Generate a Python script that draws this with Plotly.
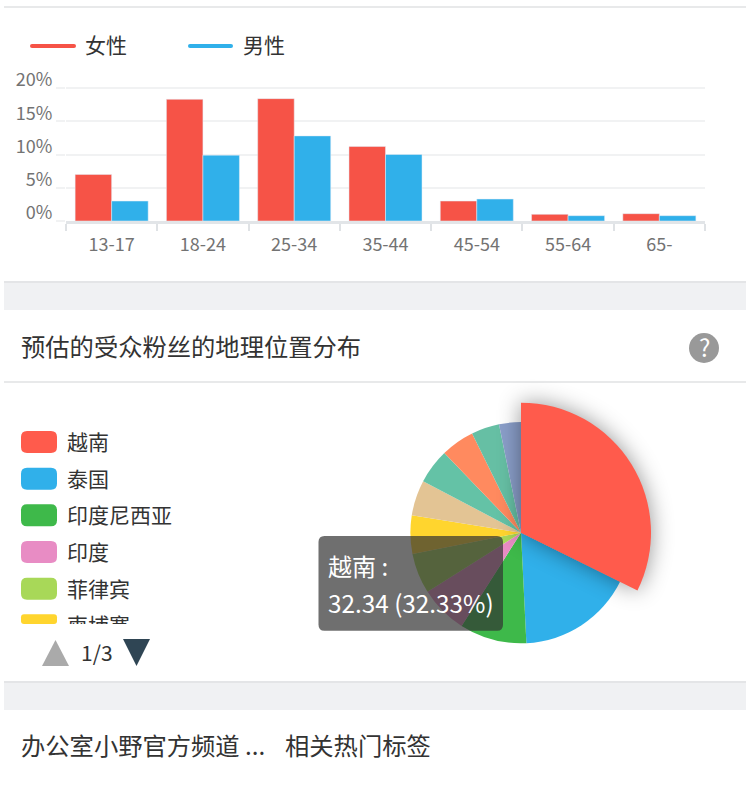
import plotly.graph_objects as go

W, H = 750, 785
CJK = "Noto Sans CJK SC"

# age / gender bars
age_groups = ["13-17", "18-24", "25-34", "35-44", "45-54", "55-64", "65-"]
female = [7.0, 18.3, 18.4, 11.2, 3.0, 1.0, 1.1]
male = [3.0, 9.9, 12.8, 10.0, 3.3, 0.8, 0.8]
y_ticks = [0, 5, 10, 15, 20]
y_tick_labels = ["0%", "5%", "10%", "15%", "20%"]

# geography pie, clockwise from 12 o'clock
countries = ["越南", "泰国", "印度尼西亚", "印度", "菲律宾", "柬埔寨", "其他1", "其他2", "其他3", "其他4", "其他5"]
shares = [32.34, 16.9, 9.8, 7.0, 5.9, 5.6, 5.2, 5.1, 4.9, 4.1, 3.19]
pie_colors = ["#ff5b4c", "#30b0ea", "#3eb94a", "#e88cc4", "#a8d858", "#ffd52e",
              "#e3c494", "#64c2a6", "#ff8a5f", "#66bfa4", "#8a9ec9"]
legend_names = ["越南", "泰国", "印度尼西亚", "印度", "菲律宾", "柬埔寨"]

RED = "#f65347"
BLUE = "#30b0ea"


def px(x):
    return x / W


def py(y):
    return 1 - y / H


def rect(x0, y0, x1, y1, color):
    return dict(type="rect", xref="paper", yref="paper", x0=px(x0), x1=px(x1),
                y0=py(y0), y1=py(y1), fillcolor=color, line_width=0, layer="below")


def poly(points, color, layer="below"):
    path = "M" + " L".join(f"{px(x):.5f},{py(y):.5f}" for x, y in points) + " Z"
    return dict(type="path", xref="paper", yref="paper", path=path, fillcolor=color, line_width=0, layer=layer)


def round_rect(x0, y0, x1, y1, r, color, layer="above"):
    # rounded box as paper path, arguments in pixels from the top left of the page
    def p(x, y):
        return f"{px(x):.5f},{py(y):.5f}"
    path = (f"M{p(x0+r,y0)} L{p(x1-r,y0)} Q{p(x1,y0)} {p(x1,y0+r)} L{p(x1,y1-r)} Q{p(x1,y1)} {p(x1-r,y1)} "
            f"L{p(x0+r,y1)} Q{p(x0,y1)} {p(x0,y1-r)} L{p(x0,y0+r)} Q{p(x0,y0)} {p(x0+r,y0)} Z")
    return dict(type="path", xref="paper", yref="paper", path=path, fillcolor=color, line_width=0, layer=layer)


def label(x, y, text, size, color="#333333", xanchor="left"):
    # the CJK font sits a little low in its box
    return dict(xref="paper", yref="paper", x=px(x - 1), y=py(y - 2), text=text, showarrow=False,
                xanchor=xanchor, yanchor="middle", borderpad=0,
                font=dict(family=CJK, size=size, color=color))


fig = go.Figure()
fig.add_trace(go.Bar(x=age_groups, y=female, marker_color=RED, name="女性", hoverinfo="skip"))
fig.add_trace(go.Bar(x=age_groups, y=male, marker_color=BLUE, name="男性", hoverinfo="skip"))

cx, cy = 521, 532.7


def pie_domain(r):
    return dict(x=[px(cx - r), px(cx + r)], y=[py(cy + r), py(cy - r)])


fig.add_trace(go.Pie(labels=countries, values=shares, sort=False, direction="clockwise", rotation=0,
                     marker=dict(colors=pie_colors, line=dict(width=0)),
                     textinfo="none", hoverinfo="skip", domain=pie_domain(110.6)))
# hovered slice is drawn larger, same angles, the other slices see through
fig.add_trace(go.Pie(labels=countries, values=shares, sort=False, direction="clockwise", rotation=0,
                     marker=dict(colors=[pie_colors[0]] + ["rgba(0,0,0,0)"] * (len(shares) - 1), line=dict(width=0)),
                     textinfo="none", hoverinfo="skip", domain=pie_domain(130)))

shapes = [
    rect(4, 6, 746, 8, "#e8e9ea"),
    rect(4, 281, 746, 283, "#e4e5e7"),
    rect(4, 283, 746, 310, "#f0f1f3"),
    rect(4, 381, 746, 383, "#e8e9ea"),
    rect(4, 681, 746, 683, "#e4e5e7"),
    rect(4, 683, 746, 710, "#f0f1f3"),
]
annotations = []

# bar legend
for x0, x1, color in [(30, 76, RED), (188, 233, BLUE)]:
    shapes.append(round_rect(x0, 44, x1, 48, 2, color, layer="below"))
annotations.append(label(85, 46, "女性", 21))
annotations.append(label(243, 46, "男性", 21))

# pie legend, the sixth row is cut off by the scroll box (clipped in page_fix)
for i, name in enumerate(legend_names):
    top = 431 + i * 36.67
    bottom = min(top + 22, 624)
    shapes.append(round_rect(21, top, 57, bottom, 6 if i < 5 else 3, pie_colors[i], layer="below"))
    annotations.append(label(67, top + 12, name, 21))

# pager
shapes.append(poly([(42, 666), (69, 666), (55.5, 640)], "#aaaaaa"))
shapes.append(poly([(123, 639), (150, 639), (136.5, 666)], "#2f4554"))
annotations.append(label(81, 654, "1/3", 21))

# section titles
annotations.append(label(21, 347, "预估的受众粉丝的地理位置分布", 24.3))
annotations.append(label(21, 746, "办公室小野官方频道 ...", 24.3))
annotations.append(label(285, 746, "相关热门标签", 24.3))

# help icon
shapes.append(dict(type="circle", xref="paper", yref="paper", x0=px(689), x1=px(719), y0=py(333), y1=py(363),
                   fillcolor="#999999", line_width=0, layer="below"))
annotations.append(label(705, 348, "?", 24, "#ffffff", "center"))

# tooltip
shapes.append(round_rect(318.5, 536, 503, 630.7, 6, "rgba(50,50,50,0.7)"))
annotations.append(label(328, 567, "越南 :", 24, "#ffffff"))
annotations.append(label(328, 604, "32.34 (32.33%)", 24.3, "#ffffff"))

fig.update_layout(
    width=W, height=H, margin=dict(l=0, r=0, t=0, b=0, autoexpand=False), autosize=False,
    paper_bgcolor="#ffffff", plot_bgcolor="rgba(0,0,0,0)", showlegend=False,
    barmode="group", bargap=0.2, bargroupgap=0,
    xaxis=dict(domain=[px(66), px(705)], anchor="y", type="category", tickson="boundaries",
               ticks="outside", ticklen=7, tickwidth=1.5, tickcolor="#dfe2e5", ticklabelstandoff=6,
               showline=True, linecolor="#e2e5e8", linewidth=2.5, showgrid=False, zeroline=False,
               tickfont=dict(family=CJK, size=18, color="#737373")),
    # range runs past 20 so plotly keeps the top gridline
    yaxis=dict(domain=[py(221), py(86)], anchor="x", range=[0, 20.3], tickvals=y_ticks, ticktext=y_tick_labels,
               ticks="outside", ticklen=9, tickcolor="#f1f2f3", tickwidth=1.5,
               ticklabelshift=-8, gridcolor="#f1f2f3", gridwidth=1.5, zeroline=False, showline=False,
               tickfont=dict(family=CJK, size=18, color="#737373")),
    shapes=shapes, annotations=annotations,
)

page_fix = """
document.body.style.margin = '0';
var slices = document.querySelectorAll('.pielayer .trace');
var big = slices[slices.length - 1].querySelector('.slice path.surface');
big.style.filter = 'drop-shadow(0 0 11px rgba(0,0,0,0.42))';
document.querySelectorAll('.annotation-text').forEach(function (t) {
    if (t.textContent === '柬埔寨') {
        var b = t.getBoundingClientRect();
        t.style.clipPath = 'inset(0 0 ' + (b.bottom - 624) + 'px 0)';
    }
});
"""
fig.write_html("out.html", post_script=page_fix, config=dict(displayModeBar=False))
